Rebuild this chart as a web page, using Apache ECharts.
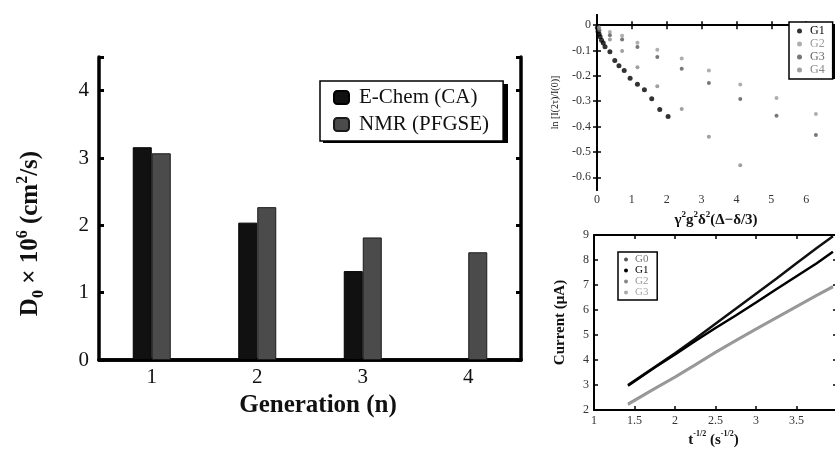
<!DOCTYPE html>
<html>
<head>
<meta charset="utf-8">
<script src="https://cdn.jsdelivr.net/npm/echarts@6/dist/echarts.min.js"></script>
<style>html,body{margin:0;padding:0;background:#fff}#c{width:835px;height:449px}</style>
</head>
<body>
<div id="c"></div>
<script>
// ---- Main bar chart data ----
const generations = ['1', '2', '3', '4'];
const echemCA = [3.16, 2.04, 1.32, null];
const nmrPFGSE = [3.07, 2.27, 1.82, 1.60];
const mainYTicks = [0, 1, 2, 3, 4];

// ---- Inset 1 (PFGSE decay) data: [x, ln(I/I0)] ----
const decayG1 = [[0.01,-0.01],[0.03,-0.025],[0.06,-0.035],[0.09,-0.046],[0.13,-0.06],[0.18,-0.07],[0.23,-0.085],[0.37,-0.105],[0.51,-0.139],[0.63,-0.16],[0.78,-0.179],[0.95,-0.209],[1.16,-0.233],[1.36,-0.255],[1.57,-0.29],[1.8,-0.333],[2.04,-0.36]];
const decayG2 = [[0.06,-0.008],[0.37,-0.027],[0.72,-0.042],[1.16,-0.069],[1.73,-0.097],[2.43,-0.132],[3.21,-0.179],[4.11,-0.234],[5.15,-0.287],[6.28,-0.35]];
const decayG3 = [[0.07,-0.02],[0.37,-0.04],[0.72,-0.057],[1.16,-0.086],[1.73,-0.126],[2.43,-0.172],[3.21,-0.228],[4.11,-0.291],[5.15,-0.357],[6.28,-0.433]];
const decayG4 = [[0.06,-0.013],[0.37,-0.057],[0.72,-0.102],[1.16,-0.166],[1.73,-0.241],[2.43,-0.331],[3.21,-0.44],[4.11,-0.552]];
const decayYTicks = [0, -0.1, -0.2, -0.3, -0.4, -0.5, -0.6];

// ---- Inset 2 (chronoamperometry) data: [t^-1/2, current uA] ----
const caG0 = [[1.42,3.0],[1.75,3.72],[2.0,4.27],[2.25,4.85],[2.5,5.45],[2.75,6.05],[3.0,6.65],[3.25,7.25],[3.5,7.87],[3.75,8.48],[3.95,8.95]];
const caG1 = [[1.42,2.97],[1.75,3.7],[2.0,4.22],[2.25,4.76],[2.5,5.28],[2.75,5.78],[3.0,6.3],[3.25,6.83],[3.5,7.35],[3.75,7.87],[3.95,8.33]];
const caG2 = [[1.42,2.25],[1.75,2.87],[2.0,3.33],[2.25,3.82],[2.5,4.32],[2.75,4.79],[3.0,5.25],[3.25,5.7],[3.5,6.15],[3.75,6.6],[3.95,6.95]];
const caG3 = [[1.42,2.21],[1.75,2.84],[2.0,3.3],[2.25,3.79],[2.5,4.29],[2.75,4.76],[3.0,5.22],[3.25,5.67],[3.5,6.12],[3.75,6.57],[3.95,6.91]];

const SERIF = '"Liberation Serif", "DejaVu Serif", serif';
const INK = '#111';

function frameAxis(extra) {
  return Object.assign({
    axisLine: { show: true, lineStyle: { color: '#000', width: 2 } },
    axisTick: { show: true, inside: true, length: 4, lineStyle: { color: '#000', width: 1.5 } },
    axisLabel: { show: false },
    splitLine: { show: false }
  }, extra);
}

const chart = echarts.init(document.getElementById('c'), null, { renderer: 'canvas' });

const option = {
  backgroundColor: '#fff',
  animation: false,
  // drop shadows behind the two boxed legends
  graphic: [
    { type: 'rect', left: 323, top: 84, shape: { width: 185, height: 59 }, style: { fill: '#000' }, z: 0 },
    { type: 'rect', left: 791, top: 24, shape: { width: 45, height: 55 }, style: { fill: '#000' }, z: 0 }
  ],
  grid: [
    { left: 99, top: 57, width: 422, height: 303, outerBoundsMode: 'none', containLabel: false },
    { left: 597, top: 15, width: 244, height: 175, outerBoundsMode: 'none', containLabel: false },
    { left: 594, top: 235, width: 243, height: 175, outerBoundsMode: 'none', containLabel: false }
  ],
  xAxis: [
    {
      gridIndex: 0, type: 'category', data: generations, position: 'bottom',
      axisLine: { lineStyle: { color: '#000', width: 3.5 } },
      axisTick: { inside: true, length: 5, lineStyle: { color: '#000', width: 3 } },
      axisLabel: { fontFamily: SERIF, fontSize: 21, color: INK, margin: 7 },
      name: 'Generation (n)', nameLocation: 'middle', nameGap: 33,
      nameTextStyle: { fontFamily: SERIF, fontSize: 25, fontWeight: 'bold', color: INK, padding: [0, 0, 0, 16] }
    },
    frameAxis({
      gridIndex: 0, type: 'category', data: generations, position: 'top',
      axisLine: { lineStyle: { color: '#000', width: 3.5 } },
      axisTick: { inside: true, length: 5, lineStyle: { color: '#000', width: 3 } }
    }),
    {
      gridIndex: 1, type: 'value', min: 0, max: 7, interval: 1, position: 'bottom',
      axisLine: { lineStyle: { color: '#000', width: 2 } },
      axisTick: { inside: true, length: 4, lineStyle: { color: '#000', width: 1.5 } },
      axisLabel: { fontFamily: SERIF, fontSize: 12, color: '#333', margin: 4, showMaxLabel: false },
      splitLine: { show: false },
      name: '{t|γ}{s|2}{t|g}{s|2}{t|δ}{s|2}{t|(Δ−δ/3)}', nameLocation: 'middle', nameGap: 20,
      nameTextStyle: {
        fontFamily: SERIF, fontSize: 15, fontWeight: 'bold', color: INK, padding: [0, 6, 0, 0],
        rich: {
          t: { fontFamily: SERIF, fontSize: 15, fontWeight: 'bold', color: INK, lineHeight: 18, verticalAlign: 'bottom' },
          s: { fontFamily: SERIF, fontSize: 9, fontWeight: 'bold', color: INK, lineHeight: 10, verticalAlign: 'top' }
        }
      }
    },
    frameAxis({ gridIndex: 1, type: 'value', min: 0, max: 7, interval: 1, position: 'top' }),
    {
      gridIndex: 2, type: 'value', min: 1, max: 4, interval: 0.5, position: 'bottom',
      axisLine: { lineStyle: { color: '#000', width: 2 } },
      axisTick: { inside: true, length: 4, lineStyle: { color: '#000', width: 1.5 } },
      axisLabel: { fontFamily: SERIF, fontSize: 12, color: '#333', margin: 5, showMaxLabel: false },
      splitLine: { show: false },
      name: '{t|t}{s|-1/2}{t| (s}{s|-1/2}{t|)}', nameLocation: 'middle', nameGap: 20,
      nameTextStyle: {
        fontFamily: SERIF, fontSize: 15, fontWeight: 'bold', color: INK, padding: [0, 4, 0, 0],
        rich: {
          t: { fontFamily: SERIF, fontSize: 15, fontWeight: 'bold', color: INK, lineHeight: 18, verticalAlign: 'bottom' },
          s: { fontFamily: SERIF, fontSize: 8, fontWeight: 'bold', color: INK, lineHeight: 10, verticalAlign: 'top' }
        }
      }
    },
    frameAxis({ gridIndex: 2, type: 'value', min: 1, max: 4, interval: 0.5, position: 'top' })
  ],
  yAxis: [
    {
      gridIndex: 0, type: 'value', min: 0, max: 4.5, interval: 1, position: 'left',
      axisLine: { show: true, lineStyle: { color: '#000', width: 3.5 } },
      axisTick: { show: true, inside: true, length: 5, lineStyle: { color: '#000', width: 3 } },
      axisLabel: { fontFamily: SERIF, fontSize: 21, color: INK, margin: 10, customValues: mainYTicks },
      splitLine: { show: false },
      name: '{t|D}{b|0}{t| × 10}{s|6}{t| (cm}{s|2}{t|/s)}', nameLocation: 'middle', nameGap: 52, nameRotate: 90,
      nameTextStyle: {
        fontFamily: SERIF, fontSize: 25, fontWeight: 'bold', color: INK, padding: [0, 50, 0, 0],
        rich: {
          t: { fontFamily: SERIF, fontSize: 25, fontWeight: 'bold', color: INK, lineHeight: 32, verticalAlign: 'middle' },
          b: { fontFamily: SERIF, fontSize: 16, fontWeight: 'bold', color: INK, lineHeight: 14, verticalAlign: 'bottom' },
          s: { fontFamily: SERIF, fontSize: 16, fontWeight: 'bold', color: INK, lineHeight: 16, verticalAlign: 'top' }
        }
      }
    },
    frameAxis({
      gridIndex: 0, type: 'value', min: 0, max: 4.5, interval: 1, position: 'right',
      axisLine: { show: true, lineStyle: { color: '#000', width: 3.5 } },
      axisTick: { show: true, inside: true, length: 5, lineStyle: { color: '#000', width: 3 } }
    }),
    {
      gridIndex: 1, type: 'value', min: -0.65, max: 0.04, position: 'left',
      axisLine: { show: true, lineStyle: { color: '#000', width: 2 } },
      axisTick: { show: true, inside: true, length: 4, lineStyle: { color: '#000', width: 1.5 }, customValues: decayYTicks },
      axisLabel: { fontFamily: SERIF, fontSize: 12, color: '#333', margin: 6, customValues: decayYTicks },
      splitLine: { show: false },
      name: 'ln [I(2τ)/I(0)]', nameLocation: 'middle', nameGap: 37, nameRotate: 90,
      nameTextStyle: { fontFamily: SERIF, fontSize: 10, color: INK }
    },
    frameAxis({
      gridIndex: 1, type: 'value', min: -0.65, max: 0.04, position: 'right',
      axisTick: { show: true, inside: true, length: 4, lineStyle: { color: '#000', width: 1.5 }, customValues: decayYTicks }
    }),
    {
      gridIndex: 2, type: 'value', min: 2, max: 9, interval: 1, position: 'left',
      axisLine: { show: true, lineStyle: { color: '#000', width: 2 } },
      axisTick: { show: true, inside: true, length: 4, lineStyle: { color: '#000', width: 1.5 } },
      axisLabel: { fontFamily: SERIF, fontSize: 12, color: '#333', margin: 5 },
      splitLine: { show: false },
      name: 'Current (μA)', nameLocation: 'middle', nameGap: 26, nameRotate: 90,
      nameTextStyle: { fontFamily: SERIF, fontSize: 15, fontWeight: 'bold', color: INK }
    },
    frameAxis({ gridIndex: 2, type: 'value', min: 2, max: 9, interval: 1, position: 'right' })
  ],
  legend: [
    {
      data: ['E-Chem (CA)', 'NMR (PFGSE)'], selectedMode: false,
      left: 320, top: 81, orient: 'vertical', z: 5,
      itemWidth: 15, itemHeight: 13, itemGap: 6,
      padding: [6, 14, 6, 13],
      backgroundColor: '#fff', borderColor: '#000', borderWidth: 1.5,
      textStyle: { fontFamily: SERIF, fontSize: 21, color: INK, padding: [0, 0, 0, 5] }
    },
    {
      data: [
        { name: 'G1', textStyle: { color: '#000' } },
        { name: 'G2', textStyle: { color: '#999' } },
        { name: 'G3', textStyle: { color: '#666' } },
        { name: 'G4', textStyle: { color: '#888' } }
      ],
      selectedMode: false, left: 789, top: 22, orient: 'vertical', icon: 'circle', z: 5,
      itemWidth: 5, itemHeight: 5, itemGap: 1,
      padding: [3, 8, 3, 8],
      backgroundColor: '#fff', borderColor: '#000', borderWidth: 1.5,
      textStyle: { fontFamily: SERIF, fontSize: 12, padding: [0, 0, 0, 3] }
    },
    {
      data: [
        { name: 'G0 ', textStyle: { color: '#777' } },
        { name: 'G1 ', textStyle: { color: '#000' } },
        { name: 'G2 ', textStyle: { color: '#999' } },
        { name: 'G3 ', textStyle: { color: '#aaa' } }
      ],
      selectedMode: false, left: 618, top: 252, orient: 'vertical', icon: 'circle', z: 5,
      itemWidth: 4, itemHeight: 4, itemGap: 0,
      padding: [2, 6, 2, 6],
      backgroundColor: '#fff', borderColor: '#000', borderWidth: 1.5,
      textStyle: { fontFamily: SERIF, fontSize: 11, padding: [0, 0, 0, 2] }
    }
  ],
  series: [
    {
      name: 'E-Chem (CA)', type: 'bar', xAxisIndex: 0, yAxisIndex: 0, data: echemCA,
      barWidth: 19, barGap: '0%',
      itemStyle: { color: '#111', borderColor: '#000', borderWidth: 1 }
    },
    {
      name: 'NMR (PFGSE)', type: 'bar', xAxisIndex: 0, yAxisIndex: 0, data: nmrPFGSE,
      barWidth: 19, barGap: '0%',
      itemStyle: { color: '#4b4b4b', borderColor: '#1a1a1a', borderWidth: 1 }
    },
    { name: 'G1', type: 'scatter', xAxisIndex: 2, yAxisIndex: 2, data: decayG1, symbolSize: 5, itemStyle: { color: '#000' } },
    { name: 'G2', type: 'scatter', xAxisIndex: 2, yAxisIndex: 2, data: decayG2, symbolSize: 4, itemStyle: { color: '#9a9a9a' } },
    { name: 'G3', type: 'scatter', xAxisIndex: 2, yAxisIndex: 2, data: decayG3, symbolSize: 4, itemStyle: { color: '#555' } },
    { name: 'G4', type: 'scatter', xAxisIndex: 2, yAxisIndex: 2, data: decayG4, symbolSize: 4, itemStyle: { color: '#888' } },
    { name: 'G0 ', type: 'line', xAxisIndex: 4, yAxisIndex: 4, data: caG0, showSymbol: false, symbol: 'circle', lineStyle: { color: '#111', width: 2.5 }, itemStyle: { color: '#555' } },
    { name: 'G1 ', type: 'line', xAxisIndex: 4, yAxisIndex: 4, data: caG1, showSymbol: false, symbol: 'circle', lineStyle: { color: '#000', width: 2.5 }, itemStyle: { color: '#000' } },
    { name: 'G2 ', type: 'line', xAxisIndex: 4, yAxisIndex: 4, data: caG2, showSymbol: false, symbol: 'circle', lineStyle: { color: '#8a8a8a', width: 2.5 }, itemStyle: { color: '#888' } },
    { name: 'G3 ', type: 'line', xAxisIndex: 4, yAxisIndex: 4, data: caG3, showSymbol: false, symbol: 'circle', lineStyle: { color: '#9a9a9a', width: 2.5 }, itemStyle: { color: '#aaa' } }
  ]
};
chart.setOption(option);
</script>
</body>
</html>
